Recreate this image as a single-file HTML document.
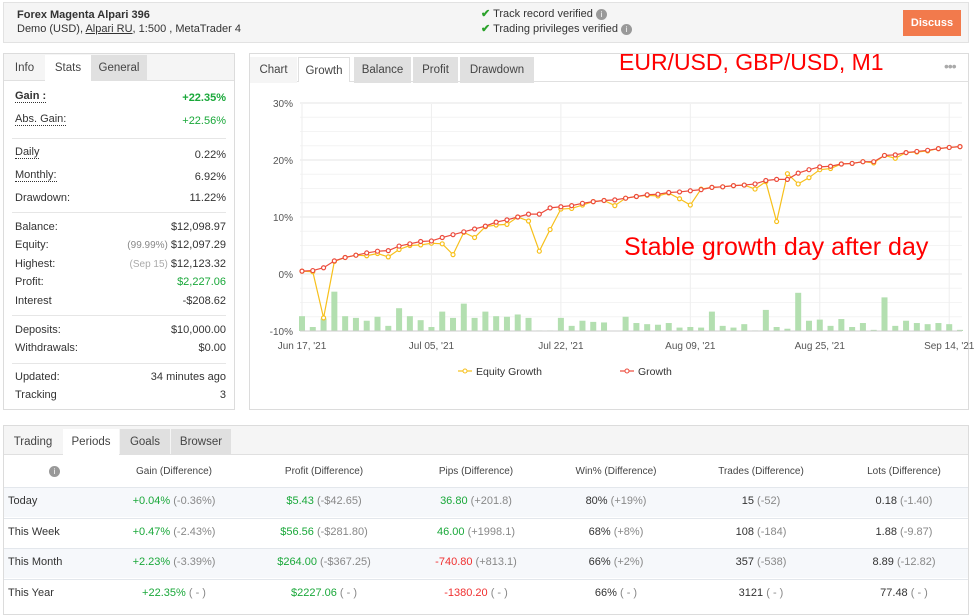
<!DOCTYPE html>
<html><head><meta charset="utf-8"><style>
*{box-sizing:border-box;margin:0;padding:0}
body{width:974px;height:608px;background:#fff;font-family:"Liberation Sans",sans-serif;font-size:11px;color:#333;position:relative;overflow:hidden}
.a{position:absolute;white-space:nowrap}
.box{position:absolute;border:1px solid #dcdcdc;background:#fff}
.tab{position:absolute;height:26px;line-height:26px;text-align:center;font-size:11.5px;color:#444}
.g{color:#1aa83a}.r{color:#f03030}.m{color:#888}
.lbl{left:11px}.val{right:8px;text-align:right}
.dot{border-bottom:1px dotted #333}
.hr{position:absolute;left:8px;right:8px;height:1px;background:#e6e6e6}
.cell{position:absolute;transform:translateX(-50%);white-space:nowrap;font-size:11px}
</style></head><body>
<div class="box" style="left:3px;top:2px;width:966px;height:41px;background:#f5f5f5;border-color:#e2e2e2">
 <div class="a" style="left:13px;top:6px;font-weight:bold;font-size:11px">Forex Magenta Alpari 396</div>
 <div class="a" style="left:13px;top:20px">Demo (USD), <span style="text-decoration:underline">Alpari RU</span>, 1:500 , MetaTrader 4</div>
 <div class="a" style="left:477px;top:4px"><span style="color:#2aa22a;font-weight:bold">✔</span> Track record verified <span style="display:inline-block;width:11px;height:11px;border-radius:50%;background:#999;color:#fff;font-size:8px;text-align:center;line-height:11px">i</span></div>
 <div class="a" style="left:477px;top:19px"><span style="color:#2aa22a;font-weight:bold">✔</span> Trading privileges verified <span style="display:inline-block;width:11px;height:11px;border-radius:50%;background:#999;color:#fff;font-size:8px;text-align:center;line-height:11px">i</span></div>
 <div class="a" style="left:899px;top:7px;width:58px;height:26px;background:#f27a4c;color:#fff;text-align:center;line-height:26px;font-weight:bold;font-size:11px">Discuss</div>
</div>

<div class="box" style="left:3px;top:53px;width:232px;height:357px">
 <div class="a" style="left:0;top:0;width:230px;height:27px;background:#f5f5f5;border-bottom:1px solid #e0e0e0"></div>
 <div class="tab" style="left:0;top:1px;width:41px">Info</div>
 <div class="tab" style="left:41px;top:1px;width:46px;background:#fff;height:27px">Stats</div>
 <div class="tab" style="left:87px;top:1px;width:56px;background:#e0e0e0">General</div>
 <div class="a lbl" style="top:36px;font-weight:bold"><span class="dot">Gain :</span></div><div class="a val g" style="top:38px;font-weight:bold">+22.35%</div>
 <div class="a lbl" style="top:59px"><span class="dot">Abs. Gain:</span></div><div class="a val g" style="top:61px">+22.56%</div>
 <div class="hr" style="top:84px"></div>
 <div class="a lbl" style="top:92px"><span class="dot">Daily</span></div><div class="a val" style="top:95px">0.22%</div>
 <div class="a lbl" style="top:115px"><span class="dot">Monthly:</span></div><div class="a val" style="top:117px">6.92%</div>
 <div class="a lbl" style="top:138px">Drawdown:</div><div class="a val" style="top:138px">11.22%</div>
 <div class="hr" style="top:158px"></div>
 <div class="a lbl" style="top:167px">Balance:</div><div class="a val" style="top:167px">$12,098.97</div>
 <div class="a lbl" style="top:185px">Equity:</div><div class="a val" style="top:185px"><span class="m" style="font-size:10px">(99.99%)</span> $12,097.29</div>
 <div class="a lbl" style="top:204px">Highest:</div><div class="a val" style="top:204px"><span style="color:#aaa;font-size:10px">(Sep 15)</span> $12,123.32</div>
 <div class="a lbl" style="top:222px">Profit:</div><div class="a val g" style="top:222px">$2,227.06</div>
 <div class="a lbl" style="top:241px">Interest</div><div class="a val" style="top:241px">-$208.62</div>
 <div class="hr" style="top:261px"></div>
 <div class="a lbl" style="top:270px">Deposits:</div><div class="a val" style="top:270px">$10,000.00</div>
 <div class="a lbl" style="top:288px">Withdrawals:</div><div class="a val" style="top:288px">$0.00</div>
 <div class="hr" style="top:309px"></div>
 <div class="a lbl" style="top:317px">Updated:</div><div class="a val" style="top:317px">34 minutes ago</div>
 <div class="a lbl" style="top:335px">Tracking</div><div class="a val" style="top:335px">3</div>
</div>

<div class="box" style="left:249px;top:53px;width:720px;height:357px">
 <div class="a" style="left:0;top:27px;width:718px;height:1px;background:#e0e0e0"></div>
 <div class="tab" style="left:0;top:3px;width:47px;background:#f5f5f5">Chart</div>
 <div class="tab" style="left:48px;top:3px;width:52px;background:#fff;border:1px solid #e0e0e0;border-bottom:none;height:25px">Growth</div>
 <div class="tab" style="left:104px;top:3px;width:57px;background:#e0e0e0">Balance</div>
 <div class="tab" style="left:163px;top:3px;width:45px;background:#e0e0e0">Profit</div>
 <div class="tab" style="left:210px;top:3px;width:74px;background:#e0e0e0">Drawdown</div>
 <div class="a" style="left:694px;top:4px;color:#aaa;font-size:14px;letter-spacing:-1px">•••</div>
</div>
<div class="a" style="left:619px;top:49px;color:#ff0000;font-size:23px">EUR/USD, GBP/USD, M1</div>

<svg class="a" style="left:0;top:0" width="974" height="420" id="chart"></svg>
<div class="a" style="left:624px;top:233px;color:#ff0000;font-size:25px">Stable growth day after day</div>

<div class="box" style="left:3px;top:425px;width:966px;height:190px">
 <div class="a" style="left:0;top:0;width:964px;height:29px;background:#f5f5f5;border-bottom:1px solid #e0e0e0"></div>
 <div class="tab" style="left:0;top:3px;width:58px">Trading</div>
 <div class="tab" style="left:59px;top:3px;width:56px;background:#fff;height:27px">Periods</div>
 <div class="tab" style="left:116px;top:3px;width:50px;background:#e0e0e0">Goals</div>
 <div class="tab" style="left:167px;top:3px;width:60px;background:#e0e0e0">Browser</div>
</div>
<div id="table"></div>

<script>
// ---- chart data ----
const growth=[0.5,0.6,1.1,2.3,2.9,3.3,3.7,4.0,4.1,4.9,5.3,5.7,5.8,6.4,6.9,7.4,7.9,8.4,9.1,9.5,10.0,10.5,10.5,11.6,11.8,12.0,12.4,12.7,12.9,13.0,13.3,13.6,13.9,14.0,14.3,14.4,14.6,14.8,15.2,15.3,15.5,15.6,15.8,16.4,16.6,16.6,17.7,18.3,18.8,18.9,19.3,19.4,19.7,19.7,20.8,20.9,21.3,21.5,21.7,22.0,22.2,22.35];
const equity=[0.5,0.4,-7.7,2.2,2.9,3.3,3.2,3.6,3.0,4.3,5.0,5.1,5.4,5.3,3.4,7.3,6.4,8.3,8.6,8.7,10.0,9.3,4.0,7.8,11.4,11.5,12.1,12.7,12.9,12.0,13.3,13.6,13.8,13.7,14.2,13.2,12.1,14.9,15.2,15.3,15.5,15.6,14.9,16.2,9.2,17.6,15.8,16.9,18.3,18.5,19.3,19.4,19.7,19.5,20.8,20.3,21.3,21.4,21.6,22.0,22.2,22.35];
const bars=[-7.4,-9.3,-7.8,-3.1,-7.4,-7.7,-8.2,-7.5,-9.1,-6.0,-7.4,-8.1,-9.3,-6.6,-7.7,-5.2,-7.7,-6.6,-7.4,-7.5,-7.1,-7.7,-9.9,-9.9,-7.7,-9.1,-8.2,-8.4,-8.5,-10,-7.5,-8.6,-8.8,-8.9,-8.6,-9.4,-9.3,-9.4,-6.6,-9.1,-9.4,-8.8,-9.9,-6.3,-9.3,-9.6,-3.3,-8.2,-8.0,-9.1,-7.9,-9.3,-8.6,-9.8,-4.1,-9.1,-8.2,-8.6,-8.8,-8.6,-8.8,-9.8];
const yTicks=[30,20,10,0,-10];
const xLabels=["Jun 17, '21","Jul 05, '21","Jul 22, '21","Aug 09, '21","Aug 25, '21","Sep 14, '21"];
const xLabelIdx=[0,12,24,36,48,60];

const svg=document.getElementById('chart');
const NS='http://www.w3.org/2000/svg';
const X0=302,XSTEP=(960-302)/(growth.length-1);
const x=i=>X0+i*XSTEP;
const y=v=>274-v*5.7;
function mk(t,a){const e=document.createElementNS(NS,t);for(const k in a)e.setAttribute(k,a[k]);svg.appendChild(e);return e;}
for(let v=-10;v<=30;v+=2.5){const l=mk('line',{x1:300,x2:962,y1:y(v),y2:y(v),stroke:v%10===0?'#e6e6e6':'#f4f4f4'});}
yTicks.forEach(v=>{const t=mk('text',{x:293,y:y(v)+4,'text-anchor':'end','font-size':10,fill:'#555'});t.textContent=v+'%';});
xLabelIdx.forEach((idx,k)=>{const g=mk('line',{x1:x(idx),x2:x(idx),y1:104,y2:331,stroke:'#eeeeee'});
 const t=mk('text',{x:x(idx),y:349,'text-anchor':'middle','font-size':10,fill:'#555'});t.textContent=xLabels[k];});
bars.forEach((v,i)=>{const h=y(-10)-y(v);const r=mk('rect',{x:x(i)-3,y:y(v),width:6,height:Math.max(h,0.5),fill:'#b3dfb0'});});
mk('line',{x1:300,x2:962,y1:331,y2:331,stroke:'#ccc'});
function series(arr,col,name){const p=mk('polyline',{points:arr.map((v,i)=>x(i)+','+y(v)).join(' '),fill:'none',stroke:col,'stroke-width':1.2});
 arr.forEach((v,i)=>{const c=mk('circle',{cx:x(i),cy:y(v),r:2,fill:'#fff',stroke:col,'stroke-width':1.2});});}
series(equity,'#f7c01c','equity-growth');
series(growth,'#ec4b3c','growth');
// legend
[[458,'#f7c01c','Equity Growth'],[620,'#ec4b3c','Growth']].forEach(([lx,c,t])=>{
 const l=mk('line',{x1:lx,x2:lx+14,y1:371,y2:371,stroke:c,'stroke-width':1.2});
 const ci=mk('circle',{cx:lx+7,cy:371,r:2,fill:'#fff',stroke:c});
 const tx=mk('text',{x:lx+18,y:375,'font-size':10.5,fill:'#333'});tx.textContent=t;});

// ---- table ----
const cols=[174,324,476,616,761,904];
const heads=["Gain (Difference)","Profit (Difference)","Pips (Difference)","Win% (Difference)","Trades (Difference)","Lots (Difference)"];
const rows=[
 ["Today",[["+0.04%","g","(-0.36%)"],["$5.43","g","(-$42.65)"],["36.80","g","(+201.8)"],["80%","","(+19%)"],["15","","(-52)"],["0.18","","(-1.40)"]]],
 ["This Week",[["+0.47%","g","(-2.43%)"],["$56.56","g","(-$281.80)"],["46.00","g","(+1998.1)"],["68%","","(+8%)"],["108","","(-184)"],["1.88","","(-9.87)"]]],
 ["This Month",[["+2.23%","g","(-3.39%)"],["$264.00","g","(-$367.25)"],["-740.80","r","(+813.1)"],["66%","","(+2%)"],["357","","(-538)"],["8.89","","(-12.82)"]]],
 ["This Year",[["+22.35%","g","( - )"],["$2227.06","g","( - )"],["-1380.20","r","( - )"],["66%","","( - )"],["3121","","( - )"],["77.48","","( - )"]]]];
let h='';
h+='<div class="a" style="left:49px;top:466px;width:11px;height:11px;border-radius:50%;background:#999;color:#fff;font-size:8px;text-align:center;line-height:11px">i</div>';
heads.forEach((t,i)=>{h+=`<div class="cell" style="left:${cols[i]}px;top:466px;font-size:10px;color:#444">${t}</div>`;});
rows.forEach((r,k)=>{const top=487+k*30.5;
 h+=`<div class="a" style="left:4px;top:${top}px;width:964px;height:30px;background:${k%2?'#fff':'#f6f8fb'};border-top:1px solid #e3e7ec"></div>`;
 h+=`<div class="a" style="left:8px;top:${top+8}px">${r[0]}</div>`;
 r[1].forEach((c,i)=>{h+=`<div class="cell" style="left:${cols[i]}px;top:${top+8}px"><span class="${c[1]}">${c[0]}</span> <span class="m">${c[2]}</span></div>`;});
});
document.getElementById('table').innerHTML=h;
</script>
</body></html>
